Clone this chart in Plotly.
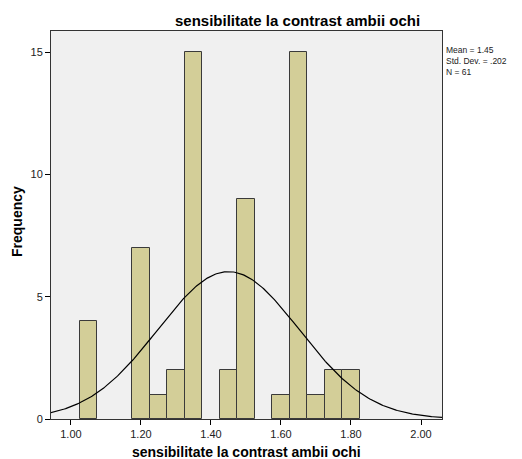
import numpy as np
import plotly.graph_objects as go

# Histogram bins (centre of each 0.05-wide bin) and their frequencies
bin_centers = [1.05, 1.20, 1.25, 1.30, 1.35, 1.45, 1.50, 1.60, 1.65, 1.70, 1.75, 1.80]
frequencies = [4, 7, 1, 2, 15, 2, 9, 1, 15, 1, 2, 2]
bin_width = 0.05

# Summary statistics shown beside the chart
mean_val = 1.45
std_dev = 0.202
n_obs = 61

x_ticks = [1.0, 1.2, 1.4, 1.6, 1.8, 2.0]
x_tick_labels = ["1.00", "1.20", "1.40", "1.60", "1.80", "2.00"]
y_ticks = [0, 5, 10, 15]

# Normal curve scaled to the histogram counts
xs = np.linspace(0.94, 2.06, 300)
ys = n_obs * bin_width / (std_dev * np.sqrt(2 * np.pi)) * np.exp(-0.5 * ((xs - mean_val) / std_dev) ** 2)

fig = go.Figure()
fig.add_trace(go.Bar(
    x=bin_centers, y=frequencies, width=bin_width,
    marker=dict(color="#D3CE98", line=dict(color="#3a3a3a", width=1)),
    hoverinfo="x+y",
))
fig.add_trace(go.Scatter(
    x=xs, y=ys, mode="lines",
    line=dict(color="black", width=1.2),
    hoverinfo="skip",
))

fig.update_layout(
    width=522, height=459,
    margin=dict(l=51, r=80, t=31, b=40),
    paper_bgcolor="white",
    plot_bgcolor="#F0F0F0",
    showlegend=False,
    font=dict(family="Arial, Liberation Sans, sans-serif", size=11, color="black"),
    bargap=0,
)
fig.update_xaxes(
    range=[0.943, 2.06],
    tickvals=x_ticks, ticktext=x_tick_labels,
    ticks="outside", ticklen=5, tickcolor="black",
    showgrid=False, zeroline=False,
    showline=True, linecolor="#333333", linewidth=1, mirror=True,
    layer="above traces",
    tickfont=dict(size=11, color="#222222"),
)
fig.update_yaxes(
    range=[0, 15.86],
    tickvals=y_ticks,
    ticks="outside", ticklen=5, tickcolor="black",
    showgrid=False, zeroline=False,
    showline=True, linecolor="#333333", linewidth=1, mirror=True,
    layer="above traces",
    tickfont=dict(size=11, color="#222222"),
)

# Chart title
fig.add_annotation(
    text="<b>sensibilitate la contrast ambii ochi</b>",
    xref="paper", yref="paper", x=0.63, y=1.0, yshift=0,
    xanchor="center", yanchor="bottom", showarrow=False,
    font=dict(size=15, color="black"),
)
# Axis titles
fig.add_annotation(
    text="<b>sensibilitate la contrast ambii ochi</b>",
    xref="paper", yref="paper", x=0.5, y=0, yshift=-23,
    xanchor="center", yanchor="top", showarrow=False,
    font=dict(size=14, color="black"),
)
fig.add_annotation(
    text="<b>Frequency</b>",
    xref="paper", yref="paper", x=0, xshift=-24, y=0.5, yshift=3,
    xanchor="right", yanchor="middle", textangle=-90, showarrow=False,
    font=dict(size=14, color="black"),
)
# Statistics box
fig.add_annotation(
    text=(f"Mean = {mean_val:.2f}<br>"
          f"Std. Dev. = .{int(round(std_dev * 1000))}<br>"
          f"N = {n_obs}"),
    xref="paper", yref="paper", x=1, xshift=2, y=1, yshift=-12,
    xanchor="left", yanchor="top", align="left", showarrow=False,
    font=dict(size=8.5, color="#222222"),
)

fig.write_html("out.html")
